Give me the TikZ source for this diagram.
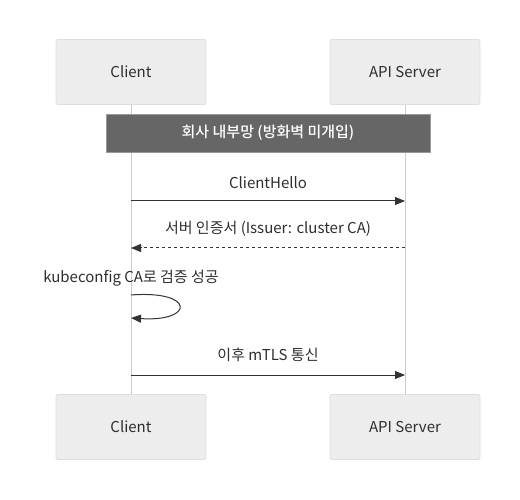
\documentclass[tikz,border=0pt]{standalone}
\usepackage{fontspec}
\setmainfont{Noto Sans CJK KR}
\newfontfamily\medfont{Noto Sans CJK KR Medium}
\usetikzlibrary{arrows.meta}
\begin{document}
\begin{tikzpicture}[x=1pt,y=-1pt,
  actor/.style={draw=black!13,fill=black!7,rounded corners=2pt,line width=0.8pt,minimum width=150pt,minimum height=65pt,inner sep=0pt,font=\fontsize{15}{17}\selectfont,text=black!82},
  notebox/.style={draw=black!40,fill=black!60,line width=0.8pt,minimum width=324pt,minimum height=38pt,inner sep=0pt,font=\medfont\fontsize{15}{17}\selectfont,text=white},
  life/.style={draw=black!20,line width=1pt},
  msg/.style={draw=black!80,line width=1pt,-{Triangle[length=10pt,width=8pt]}},
  lbl/.style={font=\fontsize{15}{17}\selectfont,text=black!82,inner sep=0pt}]
\useasboundingbox (0,0) rectangle (520,500);
\node[actor] (c1) at (131,72) {Client};
\node[actor] (s1) at (405,72) {API Server};
\node[actor] (c2) at (131,427) {Client};
\node[actor] (s2) at (405,427) {API Server};
\draw[life] (c1.south) -- (c2.north);
\draw[life] (s1.south) -- (s2.north);
\node[notebox] (note) at (268,133) {회사 내부망 (방화벽 미개입)};
\coordinate (m1a) at (131,201); \coordinate (m1b) at (405,201);
\draw[msg] (m1a) -- (m1b);
\node[lbl] (t1) at (268,183) {ClientHello};
\coordinate (m2a) at (405,248); \coordinate (m2b) at (131,248);
\draw[msg,dashed,dash pattern=on 3pt off 3pt] (m2a) -- (m2b);
\node[lbl] (t2) at (268,229) {서버 인증서 (Issuer: cluster CA)};
\coordinate (l1) at (131,295); \coordinate (l2) at (131,318);
\draw[msg] (l1) .. controls (195,290) and (195,322) .. (l2);
\node[lbl] (t3) at (131,278) {kubeconfig CA로 검증 성공};
\coordinate (m4a) at (131,375); \coordinate (m4b) at (405,375);
\draw[msg] (m4a) -- (m4b);
\node[lbl] (t4) at (268,355) {이후 mTLS 통신};
\end{tikzpicture}
\end{document}
